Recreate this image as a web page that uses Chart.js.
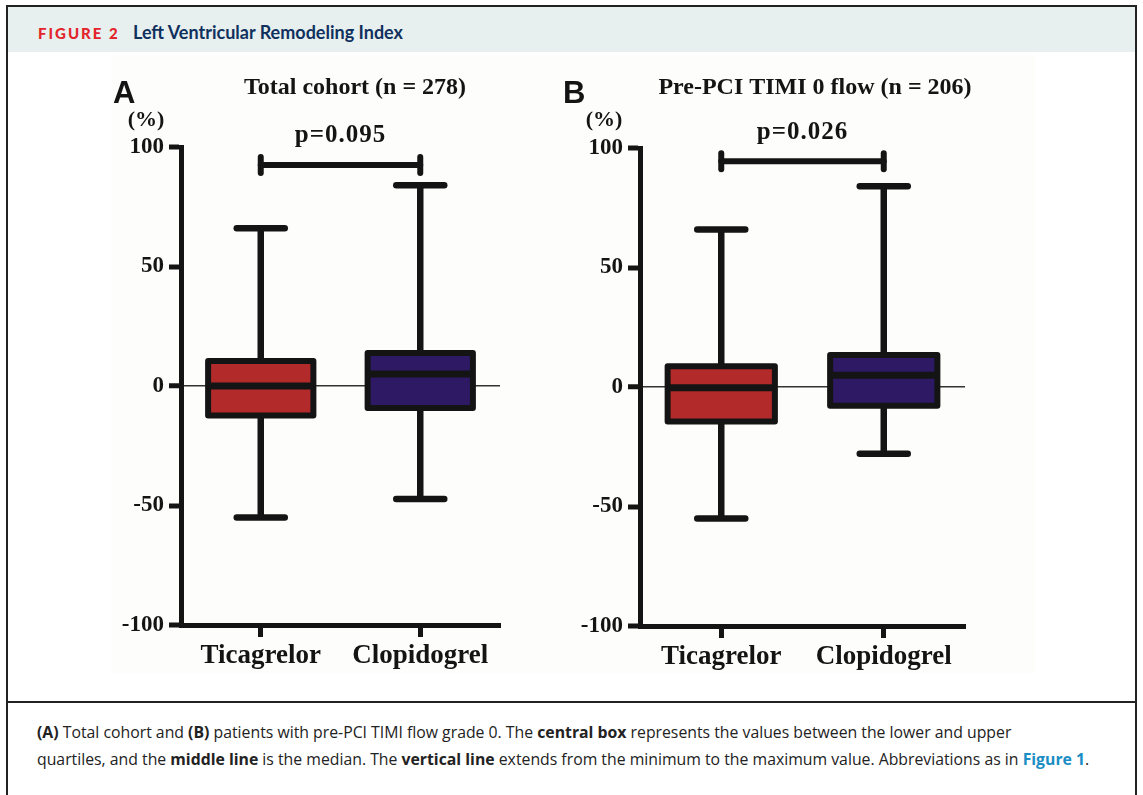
<!DOCTYPE html>
<html>
<head>
<meta charset="utf-8">
<script src="https://cdn.jsdelivr.net/npm/chart.js@4.4.1/dist/chart.umd.min.js"></script>
<style>
  html, body { margin: 0; padding: 0; background: #fff; }
  body { width: 1143px; height: 795px; position: relative; overflow: hidden; }
  #frame {
    position: absolute; left: 6px; top: 5px; width: 1127px; height: 800px;
    border: 2px solid #222; border-bottom: none;
  }
  #header {
    position: absolute; left: 8px; top: 7px; width: 1127px; height: 45px;
    background: #e7f0ef;
  }
  #header .fig {
    position: absolute; left: 30px; top: 17px; color: #e3242b; line-height: 1;
    font: 900 15px Lato, sans-serif; letter-spacing: 2px;
  }
  #header .name {
    position: absolute; left: 125px; top: 14px; color: #10305e; line-height: 1;
    font: bold 18px Lato, sans-serif;
  }
  #imgbg { position: absolute; left: 111px; top: 55px; width: 924px; height: 618px; background: #fdfdfb; }
  canvas { position: absolute; }
  #panelA { left: 100px; top: 60px; }
  #panelB { left: 559px; top: 61px; }
  #sep { position: absolute; left: 8px; top: 701px; width: 1129px; height: 2px; background: #222; }
  #caption {
    position: absolute; left: 37px; top: 719px; width: 1095px;
    font: 15.8px "Open Sans", sans-serif; line-height: 27px; color: #222; white-space: nowrap;
  }
  #caption b { font-weight: bold; }
  #caption .link { color: #1a8ec4; font-weight: bold; }
</style>
</head>
<body>
<div id="frame"></div>
<div id="header"><span class="fig">FIGURE 2</span><span class="name">Left Ventricular Remodeling Index</span></div>
<div id="imgbg"></div>
<canvas id="panelA" width="420" height="630"></canvas>
<canvas id="panelB" width="420" height="630"></canvas>
<div id="sep"></div>
<div id="caption"><b>(A)</b> Total cohort and <b>(B)</b> patients with pre-PCI TIMI flow grade 0. The <b>central box</b> represents the values between the lower and upper<br>quartiles, and the <b>middle line</b> is the median. The <b>vertical line</b> extends from the minimum to the maximum value. Abbreviations as in <span class="link">Figure 1</span>.</div>
<script>
// Daten
const categories = ["Ticagrelor", "Clopidogrel"];
const yTicks = [-100, -50, 0, 50, 100];

// Panel A: Total cohort
const minA = [-55, -47.3];
const q1A = [-12.3, -9.2];
const medianA = [0, 5];
const q3A = [10.5, 13.8];
const maxA = [66, 84];

// Panel B: Pre-PCI TIMI 0 flow
const minB = [-55, -27.9];
const q1B = [-14.4, -7.8];
const medianB = [-0.3, 4.9];
const q3B = [8.7, 13.4];
const maxB = [65.9, 84];

const panelTitles = ["Total cohort (n = 278)", "Pre-PCI TIMI 0 flow (n = 206)"];
const panelLetters = ["A", "B"];
const pValues = ["p=0.095", "p=0.026"];
const bracketLevels = [92.5, 94.5];

const boxColors = ["#b22a2a", "#2d1964"];
const ink = "#141414";
const serif = '"Liberation Serif", "Times New Roman", serif';

// Layout pro Panel (Pixel im Canvas)
const panels = [
    { id: "panelA", min: minA, q1: q1A, med: medianA, q3: q3A, max: maxA,
      title: panelTitles[0], letter: panelLetters[0], p: pValues[0], bracket: bracketLevels[0],
      padRight: 20, titleX: 255, titleY: 28, letterX: 13, letterY: 34, unitX: 46, unitY: 60 },
    { id: "panelB", min: minB, q1: q1B, med: medianB, q3: q3B, max: maxB,
      title: panelTitles[1], letter: panelLetters[1], p: pValues[1], bracket: bracketLevels[1],
      padRight: 14, titleX: 256, titleY: 27, letterX: 4, letterY: 33, unitX: 45, unitY: 59 }
];

function hLine(ctx, x0, x1, y) {
    ctx.beginPath(); ctx.moveTo(x0, y); ctx.lineTo(x1, y); ctx.stroke();
}
function vLine(ctx, x, y0, y1) {
    ctx.beginPath(); ctx.moveTo(x, y0); ctx.lineTo(x, y1); ctx.stroke();
}

// Whisker, Box-Rahmen, Median, Klammer und Texte
function makeBoxPlugin(panel) {
    return {
        id: "boxWhiskers_" + panel.id,
        beforeDatasetsDraw(chart) {
            const ctx = chart.ctx;
            const y = chart.scales.y;
            const meta = chart.getDatasetMeta(0);
            ctx.save();
            ctx.strokeStyle = ink;
            ctx.lineWidth = 6.5;
            meta.data.forEach((bar, i) => {
                const top = y.getPixelForValue(panel.max[i]);
                const bot = y.getPixelForValue(panel.min[i]);
                ctx.lineCap = "butt";
                vLine(ctx, bar.x, top, bot);
                ctx.lineCap = "round";
                hLine(ctx, bar.x - 24, bar.x + 24, top);
                hLine(ctx, bar.x - 24, bar.x + 24, bot);
            });
            ctx.restore();
        },
        afterDatasetsDraw(chart) {
            const ctx = chart.ctx;
            const y = chart.scales.y;
            const meta = chart.getDatasetMeta(0);
            ctx.save();
            ctx.strokeStyle = ink;
            meta.data.forEach((bar, i) => {
                const half = bar.width / 2;
                const top = y.getPixelForValue(panel.q3[i]);
                const bot = y.getPixelForValue(panel.q1[i]);
                ctx.lineWidth = 6;
                ctx.lineJoin = "round";
                ctx.strokeRect(bar.x - half, top, half * 2, bot - top);
                ctx.lineWidth = 7;
                hLine(ctx, bar.x - half, bar.x + half, y.getPixelForValue(panel.med[i]));
            });

            // Signifikanzklammer
            const xa = meta.data[0].x, xb = meta.data[1].x;
            const yb = y.getPixelForValue(panel.bracket);
            ctx.lineWidth = 6;
            ctx.lineCap = "round";
            hLine(ctx, xa, xb, yb);
            vLine(ctx, xa, yb - 8, yb + 8);
            vLine(ctx, xb, yb - 8, yb + 8);

            ctx.fillStyle = ink;
            ctx.textAlign = "center";
            ctx.textBaseline = "middle";
            ctx.letterSpacing = "1px";
            ctx.font = "bold 25px " + serif;
            ctx.fillText(panel.p, (xa + xb) / 2, yb - 29);

            ctx.letterSpacing = "0px";
            ctx.font = "bold 24px " + serif;
            ctx.fillText(panel.title, panel.titleX, panel.titleY);
            ctx.font = "bold 22px " + serif;
            ctx.fillText("(%)", panel.unitX, panel.unitY);

            ctx.textAlign = "left";
            ctx.font = 'bold 31px "Liberation Sans", Arial, sans-serif';
            ctx.fillText(panel.letter, panel.letterX, panel.letterY);
            ctx.restore();
        }
    };
}

function drawPanel(panel) {
    const canvas = document.getElementById(panel.id);
    return new Chart(canvas, {
        type: "bar",
        data: {
            labels: categories,
            datasets: [{
                data: panel.q1.map((v, i) => [v, panel.q3[i]]),
                backgroundColor: boxColors,
                borderWidth: 0,
                barPercentage: 0.66,
                categoryPercentage: 1
            }]
        },
        options: {
            responsive: false,
            animation: false,
            layout: { padding: { top: 87, left: 0, right: panel.padRight, bottom: 0 } },
            plugins: { legend: { display: false }, tooltip: { enabled: false }, title: { display: false } },
            scales: {
                x: {
                    offset: true,
                    border: { display: true, width: 5, color: ink },
                    grid: { display: true, offset: false, drawOnChartArea: false, drawTicks: true,
                            tickLength: 12, tickWidth: 5, tickColor: ink },
                    ticks: { color: ink, padding: 3, font: { family: serif, size: 27, weight: "bold" } },
                    afterFit(scale) { scale.height = 65; }
                },
                y: {
                    min: -100, max: 100,
                    afterBuildTicks(scale) { scale.ticks = yTicks.map(v => ({ value: v })); },
                    border: { display: true, width: 5, color: ink },
                    grid: {
                        display: true, drawOnChartArea: true, drawTicks: true,
                        tickLength: 12, tickWidth: 5, tickColor: ink,
                        color: c => (c.tick && c.tick.value === 0) ? "#333" : "rgba(0,0,0,0)",
                        lineWidth: c => (c.tick && c.tick.value === 0) ? 1.5 : 0
                    },
                    ticks: { color: ink, padding: 5, font: { family: serif, size: 23, weight: "bold" } },
                    afterFit(scale) { scale.width = 81; }
                }
            }
        },
        plugins: [makeBoxPlugin(panel)]
    });
}

panels.forEach(drawPanel);
</script>
</body>
</html>
